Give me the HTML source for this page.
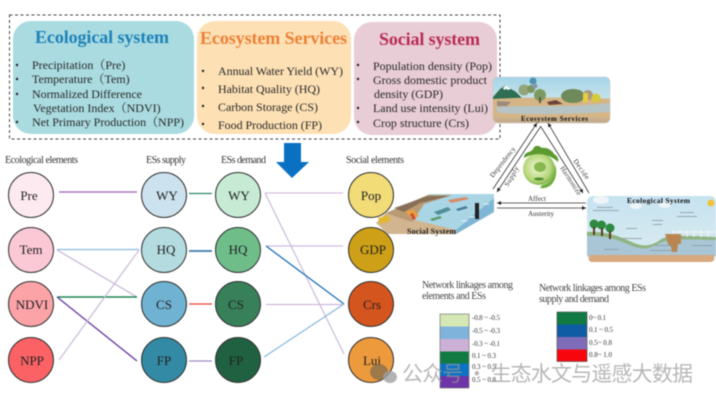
<!DOCTYPE html>
<html><head><meta charset="utf-8"><style>
html,body{margin:0;padding:0;background:#fff;width:716px;height:403px;overflow:hidden}
svg{display:block;filter:blur(0.4px)}
text{font-family:"Liberation Serif","Noto Serif CJK SC",serif;fill:#222}
.b{font-size:12px;fill:#2a2a2a}
.h{font-size:10px;fill:#333}
.n{font-size:13px;fill:#222;text-anchor:middle}
.l{font-size:10px;fill:#444}
.t{font-size:7px;fill:#333}
.c{stroke:#333;stroke-width:1}
</style></head><body>
<svg width="716" height="403" viewBox="0 0 716 403" xmlns="http://www.w3.org/2000/svg">
<defs>
<marker id="a" markerWidth="6" markerHeight="6" refX="5" refY="2.5" orient="auto"><path d="M0 0L5 2.5L0 5z" fill="#222"/></marker>
<linearGradient id="sky" x1="0" y1="0" x2="0" y2="1"><stop offset="0" stop-color="#a5d5e8"/><stop offset=".45" stop-color="#c4e2ea"/><stop offset=".5" stop-color="#d8c09a"/><stop offset="1" stop-color="#c4ab8b"/></linearGradient>
<linearGradient id="eco" x1="0" y1="0" x2="0" y2="1"><stop offset="0" stop-color="#c6e3f0"/><stop offset="1" stop-color="#dcecf0"/></linearGradient>
<radialGradient id="gl" cx=".45" cy=".45" r=".6"><stop offset="0" stop-color="#f3f8d8"/><stop offset=".7" stop-color="#b6d77a"/><stop offset="1" stop-color="#6fa93a"/></radialGradient>
</defs>
<rect x="9.5" y="15" width="490.5" height="124" fill="none" stroke="#444" stroke-width="1" stroke-dasharray="3 2.5"/>
<rect x="13" y="21" width="181" height="113" rx="18" fill="#a9dbe0"/>
<rect x="197" y="21" width="154" height="113" rx="18" fill="#fde0b4"/>
<rect x="354" y="22" width="143" height="113" rx="18" fill="#e8ccd6"/>

<text x="35" y="43" font-size="18" font-weight="bold" style="fill:#1f82b8" textLength="134">Ecological system</text>
<text x="200" y="44" font-size="18" font-weight="bold" style="fill:#ec8136" textLength="147">Ecosystem Services</text>
<text x="379" y="45" font-size="18" font-weight="bold" style="fill:#b92c55" textLength="101">Social system</text>

<g class="bul" fill="#222">
<circle cx="17" cy="65" r="1.2"/><circle cx="17" cy="79" r="1.2"/><circle cx="17" cy="94" r="1.2"/><circle cx="17" cy="122" r="1.2"/>
<circle cx="203" cy="71" r="1.2"/><circle cx="203" cy="88" r="1.2"/><circle cx="203" cy="106" r="1.2"/><circle cx="203" cy="124" r="1.2"/>
<circle cx="358" cy="65" r="1.2"/><circle cx="358" cy="79" r="1.2"/><circle cx="358" cy="108" r="1.2"/><circle cx="358" cy="122" r="1.2"/>
</g>
<text class="b" x="32" y="69">Precipitation（Pre)</text>
<text class="b" x="32" y="83">Temperature（Tem)</text>
<text class="b" x="32" y="98" textLength="110">Normalized Difference</text>
<text class="b" x="33" y="112">Vegetation Index（NDVI)</text>
<text class="b" x="32" y="126" textLength="152">Net Primary Production（NPP)</text>
<text class="b" x="218" y="75" textLength="125">Annual Water Yield (WY)</text>
<text class="b" x="218" y="93" textLength="102">Habitat Quality (HQ)</text>
<text class="b" x="218" y="111" textLength="100">Carbon Storage (CS)</text>
<text class="b" x="218" y="129" textLength="104">Food Production (FP)</text>
<text class="b" x="373" y="70" textLength="119">Population density (Pop)</text>
<text class="b" x="373" y="84" textLength="114">Gross domestic product</text>
<text class="b" x="374" y="98" textLength="69">density (GDP)</text>
<text class="b" x="373" y="112" textLength="115">Land use intensity (Lui)</text>
<text class="b" x="373" y="127" textLength="96">Crop structure (Crs)</text>

<path d="M284 143H301V162H309L292 178L276 162H284z" fill="#0a70c2"/>

<text class="h" x="5" y="163" textLength="73">Ecological elements</text>
<text class="h" x="146" y="163" textLength="40">ESs supply</text>
<text class="h" x="221" y="163" textLength="45">ESs demand</text>
<text class="h" x="346" y="163" textLength="58">Social elements</text>

<g fill="none" stroke-width="1.2">
<path d="M59 192H137" stroke="#a877bd" stroke-width="1.6"/>
<path d="M57 249.500H139" stroke="#8cb9dd"/>
<path d="M57 250L137 297" stroke="#c5b5d6"/>
<path d="M57 297H137" stroke="#1c8550" stroke-width="1.500"/>
<path d="M57 297L137 361" stroke="#6a3ea1" stroke-width="1.400"/>
<path d="M59 360L139 250" stroke="#c9bbd8"/>
<path d="M189 193.500H212" stroke="#2d8569"/>
<path d="M189 251H212" stroke="#3a78ad" stroke-width="1.800"/>
<path d="M189 304H212" stroke="#e8403a"/>
<path d="M189 361H212" stroke="#9c8cc8"/>
<path d="M265 193H343" stroke="#d3bfe0"/>
<path d="M265 193L344 354" stroke="#c9bbd8"/>
<path d="M266 246H343" stroke="#cdb8de"/>
<path d="M266 246L344 304" stroke="#1f6fb8" stroke-width="1.300"/>
<path d="M266 304.500H344" stroke="#cdb8de"/>
<path d="M264 357L344 304" stroke="#86b8de"/>
</g>

<circle class="c" cx="31" cy="195" r="22.500" fill="#fdeaf0"/>
<circle class="c" cx="31" cy="250" r="22.500" fill="#fbc8d6"/>
<circle class="c" cx="31" cy="304" r="22.500" fill="#fca3a8"/>
<circle class="c" cx="31" cy="360" r="22.500" fill="#fb6266"/>
<circle class="c" cx="164" cy="195" r="22.500" fill="#cce2ee"/>
<circle class="c" cx="164" cy="250" r="22.500" fill="#b4dce0"/>
<circle class="c" cx="164" cy="304" r="22.500" fill="#6fb2d2"/>
<circle class="c" cx="164" cy="360" r="22.500" fill="#338aa5"/>
<circle class="c" cx="238" cy="195" r="22.500" fill="#c6ead4"/>
<circle class="c" cx="238" cy="250" r="22.500" fill="#6fbe8a"/>
<circle class="c" cx="238" cy="304" r="22.500" fill="#37805a"/>
<circle class="c" cx="238" cy="360" r="22.500" fill="#1f6140"/>
<circle class="c" cx="371" cy="195" r="22.500" fill="#f1dc78"/>
<circle class="c" cx="371" cy="250" r="22.500" fill="#cda017"/>
<circle class="c" cx="371" cy="304" r="22.500" fill="#d4551e"/>
<circle class="c" cx="371" cy="360" r="22.500" fill="#ec9a3c"/>

<text class="n" x="29" y="200">Pre</text><text class="n" x="31" y="254">Tem</text><text class="n" x="32" y="309" font-size="12">NDVI</text><text class="n" x="32" y="365">NPP</text>
<text class="n" x="167" y="200">WY</text><text class="n" x="166" y="254">HQ</text><text class="n" x="164" y="309">CS</text><text class="n" x="164" y="365">FP</text>
<text class="n" x="239" y="200">WY</text><text class="n" x="238" y="254">HQ</text><text class="n" x="236" y="309">CS</text><text class="n" x="236" y="365">FP</text>
<text class="n" x="371" y="200">Pop</text><text class="n" x="373" y="254">GDP</text><text class="n" x="372" y="309">Crs</text><text class="n" x="372" y="365">Lui</text>

<!-- Ecosystem Services panel -->
<rect x="493" y="77" width="117" height="46" rx="5" fill="url(#sky)" stroke="#c8c8c8" stroke-width=".6"/>
<path d="M493 97L500 89L506 85L511 89L516 92L522 98V99H493z" fill="#2f6e55"/>
<path d="M503 88l3-3 5 4-3 1-2-1-2 1z" fill="#f2f6f6"/>
<path d="M493 99C520 97 570 97 610 99V118H493z" fill="#d5b585"/>
<path d="M496 107C530 105 565 108 610 103V112C570 114 530 115 498 113z" fill="#b6c4c6"/>
<path d="M497 101l14 1-4 4-10 0z" fill="#9a8a80"/>
<path d="M547 102l9-2 7 4-14 1z" fill="#6d4438"/>
<circle cx="524" cy="90" r="5.500" fill="#93a67a"/><circle cx="531" cy="89" r="4" fill="#7c9560"/><circle cx="540" cy="95" r="6" fill="#7d9a62"/>
<rect x="539" y="97" width="2" height="6" fill="#5f5a40"/>
<circle cx="533" cy="81" r="3.500" fill="#4f93b0"/><circle cx="535" cy="86" r="2.500" fill="#8a97a8"/>
<ellipse cx="573" cy="96" rx="12" ry="7" fill="#6e8a5a"/>
<circle cx="588" cy="95" r="5" fill="#a89a82"/>
<circle cx="596" cy="98" r="4.500" fill="#d8c93a"/><rect x="583" y="93" width="5" height="9" fill="#e8cc40"/>
<text x="521" y="121" font-size="7" font-weight="bold" style="fill:#111" textLength="67">Ecosystem Services</text>

<!-- triangle arrows -->
<g fill="none" stroke="#333" stroke-width=".8">
<path d="M493 189L537 123" marker-end="url(#a)"/>
<path d="M541 126L497 192" marker-end="url(#a)"/>
<path d="M589 193L548 123" marker-end="url(#a)"/>
<path d="M541 127L583 193" marker-end="url(#a)"/>
<path d="M586 203H497" marker-end="url(#a)"/>
<path d="M497 208H586" marker-end="url(#a)"/>
</g>
<text class="t" transform="translate(493,178) rotate(-52)" textLength="37">Dependency</text>
<text class="t" transform="translate(508,187) rotate(-60)" textLength="22">Supply</text>
<text class="t" transform="translate(573,161) rotate(55)" textLength="23">Decide</text>
<text class="t" transform="translate(560,168) rotate(57)" textLength="33">Harmonize</text>
<text class="t" x="528" y="201" textLength="18">Affect</text>
<text class="t" x="528" y="216" textLength="26">Austerity</text>

<!-- globe -->
<circle cx="539" cy="169" r="16" fill="url(#gl)"/>
<path d="M524 158c0-7 7-5 9-9 2-5 7-3 9-1 4-1 10 2 12 6 3 2 5 4 4 8-8-8-22-11-34-4z" fill="#5c9a30"/>
<path d="M542 185c8-1 14-9 13-21 4 12-2 26-15 24z" fill="#6fae3b"/>
<ellipse cx="540" cy="167" rx="6" ry="5" fill="#86b84e"/>
<ellipse cx="539" cy="179" rx="5" ry="1.500" fill="#4f8f2e"/>

<!-- Social System block -->
<path d="M376 223L386 213L430 194H494V212L456 234H388z" fill="#d0b590"/>
<path d="M386 213L430 194L494 194V200L456 230z" fill="#a9d5e4"/>
<path d="M456 230L494 198V212L456 234z" fill="#7fb6d6"/>
<path d="M386 213L428 195L452 195L424 204L412 222z" fill="#b99a72"/>
<path d="M394 208L428 196L450 196L420 203L404 212z" fill="#7a6450" fill-opacity=".8"/>
<path d="M405 212l8-3 6 7-6 3z" fill="#e6a040"/><path d="M410 214l3-1 3 6-3 1z" fill="#d84a36"/>
<path d="M434 212l14-5 3 3-13 5z" fill="#4f8f9a"/><path d="M448 200l18-3 3 2-18 4z" fill="#d88a6a"/>
<path d="M430 219l10-3 2 2-10 3z" fill="#5a9a70"/><path d="M456 209l10-3 2 2-10 3z" fill="#4a7a9a"/>
<path d="M378 218l10-3 3 6-11 3z" fill="#e3b830"/>
<rect x="475" y="203" width="4" height="16" fill="#222"/>
<g stroke="#eaf4f8" stroke-width="1"><path d="M484 204h5M461 221h6M470 217h5"/></g>
<text x="407" y="234" font-size="8" font-weight="bold" style="fill:#222" textLength="49">Social System</text>

<!-- Ecological System panel -->
<rect x="587" y="196" width="129" height="66" rx="6" fill="url(#eco)"/>
<path d="M587 232C610 231 622 238 634 243C643 247 652 246 660 240C668 234 690 236 716 237V240C690 240 670 238 660 243C650 249 642 250 632 246C620 241 610 236 587 236z" fill="#8fb382"/>
<path d="M587 236C610 236 620 241 632 246C642 250 650 249 660 243C670 238 690 240 716 240V256H587z" fill="#a8c6d6"/>
<path d="M589 255H714V259Q714 262 709 262H592Q589 262 589 259z" fill="#d8a87e"/>
<g stroke="#f4f6f6" stroke-width="1"><path d="M673 230V237M680 230V237M687 230V237M694 230V237M701 230V237M708 230V237M673 232H715"/></g>
<circle cx="594" cy="224" r="4.500" fill="#2d8a3e"/><rect x="593" y="227" width="2" height="8" fill="#5a3c20"/>
<circle cx="601.500" cy="225" r="4.500" fill="#2d8a3e"/><rect x="601" y="228" width="2" height="8" fill="#5a3c20"/>
<circle cx="610" cy="228" r="4.500" fill="#2d8a3e"/><rect x="609" y="231" width="2" height="8" fill="#5a3c20"/>
<path d="M665 234h16v10h-3l-1 8h-5l-1-5-3-3z" fill="#b98650"/>
<circle cx="711" cy="203" r="3.500" fill="#f0c33c"/>
<ellipse cx="601" cy="200" rx="8" ry="4" fill="#eef4f8"/><ellipse cx="636" cy="206" rx="6" ry="3" fill="#eef4f8"/><ellipse cx="665" cy="205" rx="6" ry="3" fill="#eef4f8"/>
<g fill="#8a96a0" fill-opacity=".8"><rect x="597" y="207" width="16" height="1"/><rect x="593" y="210" width="26" height="1"/><rect x="680" y="212" width="14" height="1"/><rect x="677" y="216" width="20" height="1"/><rect x="652" y="220" width="11" height="1"/><rect x="653" y="224" width="9" height="1"/><rect x="626" y="228" width="11" height="1"/><rect x="621" y="238" width="21" height="1"/><rect x="655" y="245" width="17" height="1"/><rect x="650" y="250" width="22" height="1"/><rect x="692" y="245" width="20" height="1"/><rect x="604" y="249" width="14" height="1"/></g>
<text x="627" y="203" font-size="7.500" font-weight="bold" style="fill:#111" textLength="63">Ecological System</text>

<!-- legends -->
<text class="l" x="422" y="288" textLength="91">Network linkages among</text>
<text class="l" x="422" y="299" textLength="64">elements and ESs</text>
<text class="l" x="539" y="291" textLength="107">Network linkages among ESs</text>
<text class="l" x="539" y="302" textLength="70">supply and demand</text>

<rect x="440" y="314" width="29" height="12.500" fill="#d5e8b4"/>
<rect x="440" y="326.500" width="29" height="12.500" fill="#7fb3db"/>
<rect x="440" y="339" width="29" height="12.500" fill="#cdb0d6"/>
<rect x="440" y="351.500" width="29" height="12" fill="#117a43"/>
<rect x="440" y="363.500" width="29" height="12.500" fill="#0d72c4"/>
<rect x="440" y="376" width="29" height="12" fill="#6d35a8"/>
<rect x="440" y="314" width="29" height="74" fill="none" stroke="#777" stroke-width=".7"/>
<text class="t" x="472" y="320" textLength="28">-0.8 ~ -0.5</text><text class="t" x="472" y="333" textLength="28">-0.5 ~ -0.3</text><text class="t" x="472" y="346" textLength="28">-0.3 ~ -0.1</text><text class="t" x="472" y="358" textLength="24">0.1 ~ 0.3</text><text class="t" x="472" y="369" textLength="24">0.3 ~ 0.5</text><text class="t" x="472" y="382" textLength="24">0.5 ~ 0.8</text>

<rect x="557" y="312" width="30" height="12.500" fill="#117a43"/>
<rect x="557" y="324.500" width="30" height="12.500" fill="#0e5ca4"/>
<rect x="557" y="337" width="30" height="12.500" fill="#7f6cb8"/>
<rect x="557" y="349.500" width="30" height="12" fill="#f8060e"/>
<rect x="557" y="312" width="30" height="49.500" fill="none" stroke="#555" stroke-width=".7"/>
<text class="t" x="589" y="320" textLength="17">0~ 0.1</text><text class="t" x="589" y="332" textLength="24">0.1 ~ 0.5</text><text class="t" x="589" y="345" textLength="23">0.5~ 0.8</text><text class="t" x="589" y="357" textLength="23">0.8~ 1.0</text>

<!-- watermark -->
<ellipse cx="379" cy="372" rx="9" ry="8" fill="#7a6a50" fill-opacity=".7"/>
<ellipse cx="390" cy="377" rx="7" ry="6" fill="#a0a0a0" fill-opacity=".8"/>
<text x="402" y="381" font-size="21" style="font-family:'Noto Sans CJK SC','WenQuanYi Zen Hei',sans-serif;fill:#999;fill-opacity:.7" textLength="291">公众号 · 生态水文与遥感大数据</text>
</svg>
</body></html>
